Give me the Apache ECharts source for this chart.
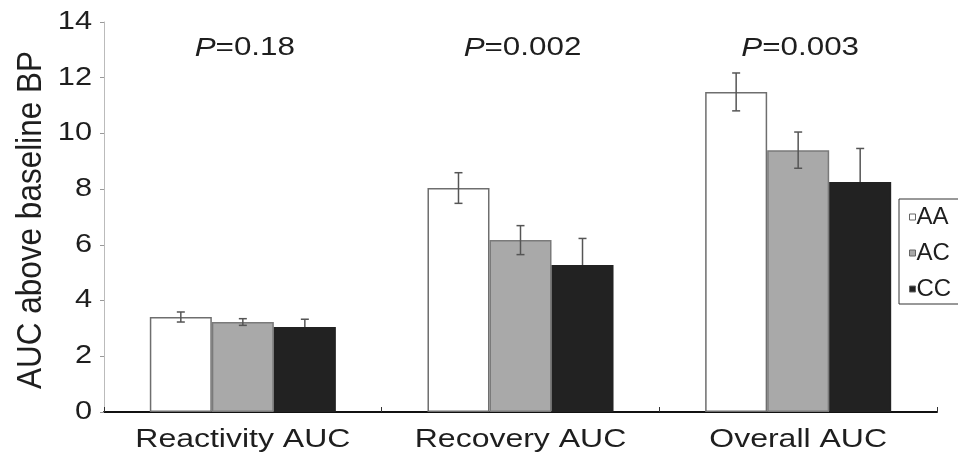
<!DOCTYPE html>
<html><head><meta charset="utf-8">
<script src="https://cdn.jsdelivr.net/npm/echarts@6/dist/echarts.min.js"></script>
<style>html,body{margin:0;padding:0;background:#fff}#c{width:958px;height:462px}</style>
</head><body><div id="c"></div>
<script>
var categories = ['Reactivity AUC', 'Recovery AUC', 'Overall AUC'];
var groups = ['AA', 'AC', 'CC'];
var meanAA = [3.41, 8.04, 11.49];
var meanAC = [3.23, 6.17, 9.40];
var meanCC = [3.05, 5.28, 8.26];
var errAA = [0.18, 0.55, 0.68];
var errAC = [0.12, 0.52, 0.65];
var errCC = [0.28, 0.95, 1.2];
var pLabels = ['0.18', '0.002', '0.003'];
var pLabelY = 13.05;
var yTicks = [0, 2, 4, 6, 8, 10, 12, 14];
var yName = 'AUC above baseline BP';

var means = [meanAA, meanAC, meanCC];
var errs = [errAA, errAC, errCC];
var fills = ['#ffffff', '#a9a9a9', '#222222'];
var borders = ['#6e6e6e', '#7a7a7a', '#222222'];
var catGap = 0.33;
var font = 'Liberation Sans, Arial, sans-serif';
var txt = '#1e1e1e';
var SX = 1.23;

var series = [];
groups.forEach(function (g, gi) {
  series.push({
    name: g, type: 'bar', data: means[gi], barGap: '0%', barCategoryGap: (catGap * 100) + '%',
    itemStyle: { color: fills[gi], borderColor: borders[gi], borderWidth: 1.5 },
    z: 2
  });
});
groups.forEach(function (g, gi) {
  series.push({
    type: 'custom', z: gi === 2 ? 1 : 3, silent: true,
    data: means[gi].map(function (m, ci) { return [ci, m, errs[gi][ci]]; }),
    renderItem: function (params, api) {
      var ci = api.value(0), m = api.value(1), e = api.value(2);
      var band = api.size([1, 0])[0];
      var bw = band * (1 - catGap) / 3;
      var c = api.coord([ci, m]);
      var x = c[0] + (gi - 1) * bw;
      var yt = api.coord([ci, m + e])[1];
      var yb = api.coord([ci, m - e])[1];
      var st = { stroke: '#555', lineWidth: 1.5 };
      return { type: 'group', children: [
        { type: 'line', shape: { x1: x, y1: yt, x2: x, y2: yb }, style: st },
        { type: 'line', shape: { x1: x - 4, y1: yt, x2: x + 4, y2: yt }, style: st },
        { type: 'line', shape: { x1: x - 4, y1: yb, x2: x + 4, y2: yb }, style: st }
      ]};
    }
  });
});
// P-value labels
series.push({
  type: 'custom', z: 4, silent: true,
  data: pLabels.map(function (p, ci) { return [ci, pLabelY, ci]; }),
  renderItem: function (params, api) {
    var c = api.coord([api.value(0), api.value(1)]);
    var p = pLabels[api.value(2)];
    return { type: 'text', x: c[0] + 2, y: c[1], scaleX: SX, style: {
        text: '{i|P}{n|=' + p + '}', align: 'center', verticalAlign: 'middle',
        rich: { i: { fontStyle: 'italic', fontSize: 25.5, fontFamily: font, fill: txt },
                n: { fontSize: 25.5, fontFamily: font, fill: txt } } } };
  }
});
// category labels
series.push({
  type: 'custom', z: 4, silent: true,
  data: categories.map(function (c, ci) { return [ci, 0, ci]; }),
  renderItem: function (params, api) {
    var c = api.coord([api.value(0), 0]);
    return { type: 'text', x: c[0], y: c[1] + 28, scaleX: SX, style: {
      text: categories[api.value(2)], align: 'center', verticalAlign: 'middle',
      fontSize: 26, fontFamily: font, fill: txt } };
  }
});
// y tick labels
series.push({
  type: 'custom', z: 4, silent: true,
  data: yTicks.map(function (v) { return [0, v]; }),
  renderItem: function (params, api) {
    var v = api.value(1);
    var c = api.coord([0, v]);
    var x0 = c[0] - api.size([1, 0])[0] / 2;
    return { type: 'text', x: x0 - 12, y: c[1], scaleX: SX, style: {
      text: String(v), align: 'right', verticalAlign: 'middle',
      fontSize: 25, fontFamily: font, fill: txt } };
  }
});

var chart = echarts.init(document.getElementById('c'));
chart.setOption({
  animation: false,
  backgroundColor: '#fff',
  grid: { left: 104, right: 21, top: 22, bottom: 50 },
  graphic: [{
    type: 'text', x: 31, y: 220, rotation: Math.PI / 2, scaleY: 1.1,
    style: { text: yName, align: 'center', verticalAlign: 'middle',
      fontSize: 31.5, fontFamily: font, fill: txt }
  }],
  legend: {
    data: groups, orient: 'vertical', left: 899, top: 199,
    itemWidth: 6, itemHeight: 6, itemGap: 12,
    borderColor: '#333', borderWidth: 1, padding: [6, 12, 3, 10],
    textStyle: { fontSize: 24, fontFamily: font, color: txt, padding: [0, 0, 0, -4] },
    itemStyle: { borderColor: '#666', borderWidth: 1 },
    icon: 'rect'
  },
  xAxis: {
    type: 'category', data: categories,
    axisLine: { lineStyle: { color: '#111', width: 2 } },
    axisTick: { show: true, inside: true, length: 5, lineStyle: { color: '#333' } },
    axisLabel: { show: false }
  },
  yAxis: {
    type: 'value', min: 0, max: 14, interval: 2,
    axisLine: { show: true, lineStyle: { color: '#bbb', width: 1 } },
    axisTick: { show: true, length: 4, lineStyle: { color: '#999' } },
    splitLine: { show: false },
    axisLabel: { show: false }
  },
  series: series
});
</script></body></html>
